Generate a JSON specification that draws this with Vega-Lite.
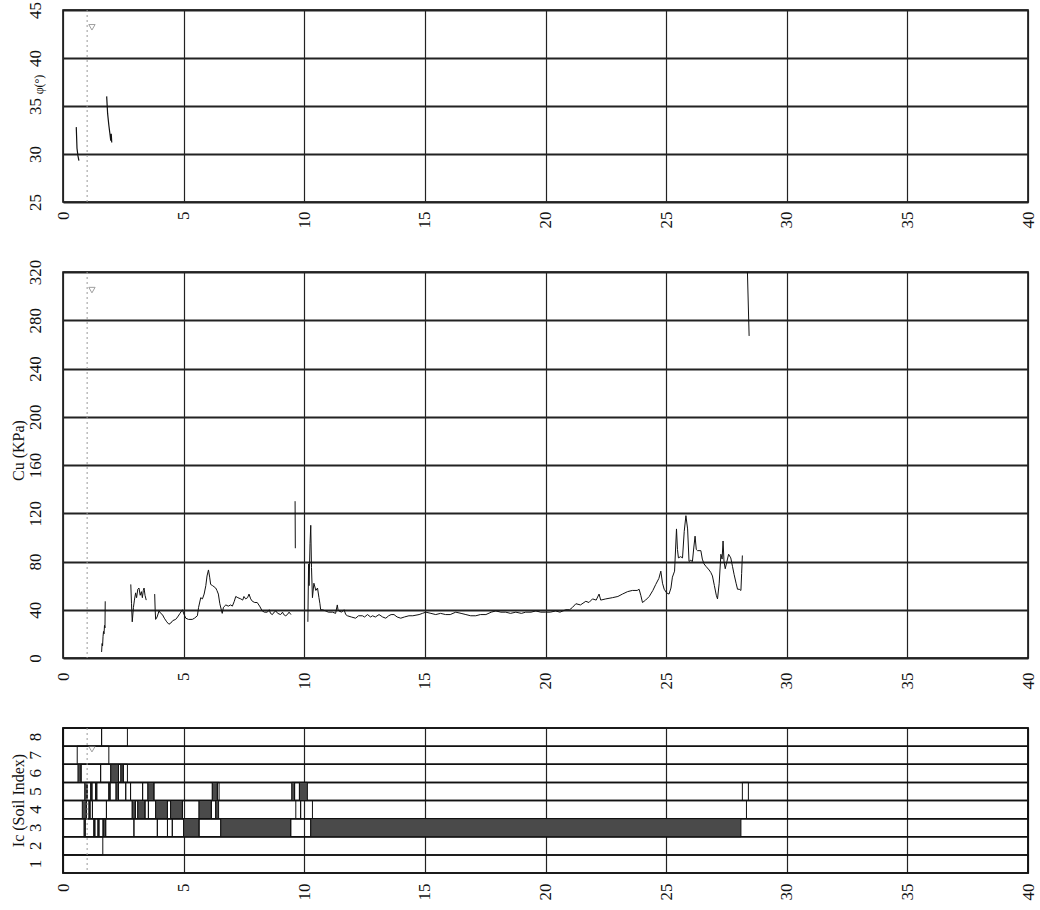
{
"$schema": "https://vega.github.io/schema/vega-lite/v6.json",
"background": "white",
"padding": {"left": 9, "top": 0, "right": 0, "bottom": 0},
"spacing": 70,
"bounds": "flush",
"config": {
  "view": {"stroke": "black", "strokeWidth": 1.5},
  "font": "Liberation Serif",
  "axis": {"labelFont": "Liberation Serif", "labelFontSize": 17, "labelColor": "#111", "titleFont": "Liberation Serif", "titleFontWeight": "normal", "titleColor": "#111", "ticks": false, "domain": false, "gridColor": "#222", "gridOpacity": 1, "labelOverlap": false, "labelFlush": false}
},
"datasets": {
  "phi": [
    {"depth":0.55,"phi":32.8,"seg":1},{"depth":0.58,"phi":30.6,"seg":1},{"depth":0.62,"phi":29.8,"seg":1},{"depth":0.66,"phi":29.3,"seg":1},
    {"depth":1.81,"phi":36.0,"seg":2},{"depth":1.85,"phi":34.2,"seg":2},{"depth":1.9,"phi":33.0,"seg":2},{"depth":1.95,"phi":32.0,"seg":2},{"depth":1.98,"phi":31.4,"seg":2},{"depth":2.0,"phi":32.1,"seg":2},{"depth":2.02,"phi":31.2,"seg":2}
  ],
  "cu": [
    {"depth":1.6,"cu":5,"seg":1},{"depth":1.62,"cu":12,"seg":1},{"depth":1.64,"cu":10,"seg":1},{"depth":1.66,"cu":18,"seg":1},{"depth":1.68,"cu":22,"seg":1},{"depth":1.7,"cu":20,"seg":1},{"depth":1.72,"cu":27,"seg":1},{"depth":1.74,"cu":25,"seg":1},{"depth":1.75,"cu":47,"seg":1},
    {"depth":2.81,"cu":61,"seg":2},{"depth":2.84,"cu":45,"seg":2},{"depth":2.87,"cu":30,"seg":2},{"depth":2.92,"cu":42,"seg":2},{"depth":2.96,"cu":48,"seg":2},{"depth":3.01,"cu":54,"seg":2},{"depth":3.05,"cu":50,"seg":2},{"depth":3.1,"cu":57,"seg":2},{"depth":3.15,"cu":58,"seg":2},{"depth":3.2,"cu":52,"seg":2},{"depth":3.25,"cu":55,"seg":2},{"depth":3.29,"cu":50,"seg":2},{"depth":3.33,"cu":56,"seg":2},{"depth":3.36,"cu":58,"seg":2},{"depth":3.4,"cu":52,"seg":2},{"depth":3.45,"cu":48,"seg":2},
    {"depth":3.8,"cu":53,"seg":3},{"depth":3.82,"cu":40,"seg":3},{"depth":3.84,"cu":32,"seg":3},{"depth":3.9,"cu":34,"seg":3},{"depth":3.98,"cu":39,"seg":3},{"depth":4.05,"cu":37,"seg":3},{"depth":4.12,"cu":36,"seg":3},{"depth":4.2,"cu":33,"seg":3},{"depth":4.3,"cu":30,"seg":3},{"depth":4.39,"cu":28,"seg":3},{"depth":4.47,"cu":29,"seg":3},{"depth":4.55,"cu":31,"seg":3},{"depth":4.67,"cu":32,"seg":3},{"depth":4.75,"cu":34,"seg":3},{"depth":4.85,"cu":37,"seg":3},{"depth":4.95,"cu":40,"seg":3},{"depth":5.02,"cu":36,"seg":3},{"depth":5.09,"cu":33,"seg":3},{"depth":5.2,"cu":32,"seg":3},{"depth":5.36,"cu":32,"seg":3},{"depth":5.45,"cu":33,"seg":3},{"depth":5.57,"cu":35,"seg":3},{"depth":5.62,"cu":42,"seg":3},{"depth":5.71,"cu":50,"seg":3},{"depth":5.78,"cu":49,"seg":3},{"depth":5.85,"cu":53,"seg":3},{"depth":5.92,"cu":60,"seg":3},{"depth":5.97,"cu":68,"seg":3},{"depth":6.03,"cu":73,"seg":3},{"depth":6.08,"cu":67,"seg":3},{"depth":6.12,"cu":61,"seg":3},{"depth":6.2,"cu":60,"seg":3},{"depth":6.33,"cu":58,"seg":3},{"depth":6.38,"cu":56,"seg":3},{"depth":6.44,"cu":53,"seg":3},{"depth":6.5,"cu":45,"seg":3},{"depth":6.6,"cu":37,"seg":3},{"depth":6.65,"cu":42,"seg":3},{"depth":6.75,"cu":44,"seg":3},{"depth":6.85,"cu":43,"seg":3},{"depth":6.95,"cu":44,"seg":3},{"depth":7.02,"cu":43,"seg":3},{"depth":7.1,"cu":47,"seg":3},{"depth":7.16,"cu":51,"seg":3},{"depth":7.25,"cu":50,"seg":3},{"depth":7.37,"cu":49,"seg":3},{"depth":7.45,"cu":48,"seg":3},{"depth":7.5,"cu":51,"seg":3},{"depth":7.57,"cu":49,"seg":3},{"depth":7.65,"cu":50,"seg":3},{"depth":7.71,"cu":53,"seg":3},{"depth":7.78,"cu":49,"seg":3},{"depth":7.85,"cu":47,"seg":3},{"depth":7.95,"cu":46,"seg":3},{"depth":8.05,"cu":46,"seg":3},{"depth":8.15,"cu":43,"seg":3},{"depth":8.26,"cu":39,"seg":3},{"depth":8.35,"cu":38,"seg":3},{"depth":8.47,"cu":38,"seg":3},{"depth":8.55,"cu":40,"seg":3},{"depth":8.6,"cu":37,"seg":3},{"depth":8.68,"cu":36,"seg":3},{"depth":8.75,"cu":38,"seg":3},{"depth":8.82,"cu":39,"seg":3},{"depth":8.9,"cu":37,"seg":3},{"depth":9.02,"cu":36,"seg":3},{"depth":9.1,"cu":38,"seg":3},{"depth":9.15,"cu":36,"seg":3},{"depth":9.23,"cu":35,"seg":3},{"depth":9.3,"cu":36,"seg":3},{"depth":9.37,"cu":38,"seg":3},{"depth":9.45,"cu":36,"seg":3},
    {"depth":9.62,"cu":130,"seg":4},{"depth":9.63,"cu":91,"seg":4},
    {"depth":10.15,"cu":30,"seg":5},{"depth":10.18,"cu":78,"seg":5},{"depth":10.2,"cu":60,"seg":5},{"depth":10.24,"cu":95,"seg":5},{"depth":10.27,"cu":110,"seg":5},{"depth":10.3,"cu":75,"seg":5},{"depth":10.34,"cu":50,"seg":5},{"depth":10.4,"cu":62,"seg":5},{"depth":10.48,"cu":56,"seg":5},{"depth":10.55,"cu":58,"seg":5},{"depth":10.61,"cu":50,"seg":5},{"depth":10.65,"cu":45,"seg":5},{"depth":10.68,"cu":40,"seg":5},{"depth":10.75,"cu":40,"seg":5},{"depth":10.89,"cu":39,"seg":5},{"depth":11.0,"cu":38,"seg":5},{"depth":11.17,"cu":38,"seg":5},{"depth":11.3,"cu":37,"seg":5},{"depth":11.37,"cu":44,"seg":5},{"depth":11.4,"cu":40,"seg":5},{"depth":11.44,"cu":39,"seg":5},{"depth":11.55,"cu":38,"seg":5},{"depth":11.65,"cu":40,"seg":5},{"depth":11.72,"cu":36,"seg":5},{"depth":11.79,"cu":35,"seg":5},{"depth":11.95,"cu":34,"seg":5},{"depth":12.13,"cu":33,"seg":5},{"depth":12.25,"cu":35,"seg":5},{"depth":12.41,"cu":35,"seg":5},{"depth":12.5,"cu":34,"seg":5},{"depth":12.62,"cu":36,"seg":5},{"depth":12.75,"cu":34,"seg":5},{"depth":12.83,"cu":35,"seg":5},{"depth":12.95,"cu":34,"seg":5},{"depth":13.1,"cu":36,"seg":5},{"depth":13.25,"cu":34,"seg":5},{"depth":13.38,"cu":33,"seg":5},{"depth":13.5,"cu":35,"seg":5},{"depth":13.6,"cu":36,"seg":5},{"depth":13.72,"cu":36,"seg":5},{"depth":13.85,"cu":34,"seg":5},{"depth":14.0,"cu":33,"seg":5},{"depth":14.15,"cu":34,"seg":5},{"depth":14.34,"cu":35,"seg":5},{"depth":14.5,"cu":35,"seg":5},{"depth":14.76,"cu":36,"seg":5},{"depth":14.9,"cu":37,"seg":5},{"depth":15.04,"cu":38,"seg":5},{"depth":15.25,"cu":37,"seg":5},{"depth":15.45,"cu":36,"seg":5},{"depth":15.65,"cu":37,"seg":5},{"depth":15.86,"cu":36,"seg":5},{"depth":16.05,"cu":36,"seg":5},{"depth":16.28,"cu":38,"seg":5},{"depth":16.5,"cu":37,"seg":5},{"depth":16.7,"cu":36,"seg":5},{"depth":16.9,"cu":35,"seg":5},{"depth":17.11,"cu":35,"seg":5},{"depth":17.3,"cu":36,"seg":5},{"depth":17.53,"cu":36,"seg":5},{"depth":17.75,"cu":38,"seg":5},{"depth":17.94,"cu":39,"seg":5},{"depth":18.15,"cu":38,"seg":5},{"depth":18.35,"cu":38,"seg":5},{"depth":18.55,"cu":37,"seg":5},{"depth":18.77,"cu":38,"seg":5},{"depth":19.0,"cu":37,"seg":5},{"depth":19.18,"cu":38,"seg":5},{"depth":19.4,"cu":38,"seg":5},{"depth":19.6,"cu":39,"seg":5},{"depth":19.8,"cu":38,"seg":5},{"depth":20.01,"cu":38,"seg":5},{"depth":20.2,"cu":38,"seg":5},{"depth":20.42,"cu":39,"seg":5},{"depth":20.6,"cu":38,"seg":5},{"depth":20.84,"cu":40,"seg":5},{"depth":21.0,"cu":40,"seg":5},{"depth":21.12,"cu":42,"seg":5},{"depth":21.26,"cu":45,"seg":5},{"depth":21.45,"cu":44,"seg":5},{"depth":21.67,"cu":47,"seg":5},{"depth":21.8,"cu":46,"seg":5},{"depth":21.95,"cu":49,"seg":5},{"depth":22.1,"cu":48,"seg":5},{"depth":22.22,"cu":53,"seg":5},{"depth":22.29,"cu":48,"seg":5},{"depth":22.5,"cu":49,"seg":5},{"depth":22.77,"cu":50,"seg":5},{"depth":23.0,"cu":51,"seg":5},{"depth":23.19,"cu":53,"seg":5},{"depth":23.4,"cu":55,"seg":5},{"depth":23.6,"cu":56,"seg":5},{"depth":23.8,"cu":56,"seg":5},{"depth":23.88,"cu":57,"seg":5},{"depth":23.95,"cu":52,"seg":5},{"depth":24.02,"cu":46,"seg":5},{"depth":24.15,"cu":48,"seg":5},{"depth":24.3,"cu":51,"seg":5},{"depth":24.45,"cu":56,"seg":5},{"depth":24.57,"cu":61,"seg":5},{"depth":24.7,"cu":66,"seg":5},{"depth":24.78,"cu":72,"seg":5},{"depth":24.85,"cu":62,"seg":5},{"depth":24.92,"cu":57,"seg":5},{"depth":25.02,"cu":54,"seg":5},{"depth":25.12,"cu":53,"seg":5},{"depth":25.2,"cu":58,"seg":5},{"depth":25.26,"cu":67,"seg":5},{"depth":25.35,"cu":72,"seg":5},{"depth":25.43,"cu":107,"seg":5},{"depth":25.47,"cu":90,"seg":5},{"depth":25.51,"cu":83,"seg":5},{"depth":25.6,"cu":84,"seg":5},{"depth":25.68,"cu":83,"seg":5},{"depth":25.75,"cu":105,"seg":5},{"depth":25.82,"cu":118,"seg":5},{"depth":25.89,"cu":107,"seg":5},{"depth":25.95,"cu":80,"seg":5},{"depth":26.02,"cu":81,"seg":5},{"depth":26.09,"cu":80,"seg":5},{"depth":26.15,"cu":92,"seg":5},{"depth":26.2,"cu":101,"seg":5},{"depth":26.25,"cu":90,"seg":5},{"depth":26.3,"cu":89,"seg":5},{"depth":26.44,"cu":89,"seg":5},{"depth":26.5,"cu":82,"seg":5},{"depth":26.57,"cu":78,"seg":5},{"depth":26.65,"cu":76,"seg":5},{"depth":26.78,"cu":73,"seg":5},{"depth":26.85,"cu":71,"seg":5},{"depth":26.92,"cu":68,"seg":5},{"depth":27.0,"cu":60,"seg":5},{"depth":27.08,"cu":52,"seg":5},{"depth":27.13,"cu":49,"seg":5},{"depth":27.2,"cu":62,"seg":5},{"depth":27.27,"cu":86,"seg":5},{"depth":27.32,"cu":82,"seg":5},{"depth":27.36,"cu":97,"seg":5},{"depth":27.4,"cu":80,"seg":5},{"depth":27.45,"cu":74,"seg":5},{"depth":27.52,"cu":80,"seg":5},{"depth":27.59,"cu":86,"seg":5},{"depth":27.68,"cu":83,"seg":5},{"depth":27.75,"cu":76,"seg":5},{"depth":27.82,"cu":69,"seg":5},{"depth":27.9,"cu":62,"seg":5},{"depth":27.96,"cu":57,"seg":5},{"depth":28.03,"cu":57,"seg":5},{"depth":28.1,"cu":56,"seg":5},{"depth":28.13,"cu":70,"seg":5},{"depth":28.16,"cu":85,"seg":5},
    {"depth":28.37,"cu":320,"seg":6},{"depth":28.44,"cu":267,"seg":6}
  ],
  "rows": [{"ic":1},{"ic":2},{"ic":3},{"ic":4},{"ic":5},{"ic":6},{"ic":7},{"ic":8}],
  "ic": [
    {"d0":0,"d1":1.6,"ic":8,"kind":"box"},{"d0":1.6,"d1":2.67,"ic":8,"kind":"box"},
    {"d0":0.59,"d1":1.9,"ic":7,"kind":"box"},
    {"d0":0.62,"d1":0.75,"ic":6,"kind":"dark"},{"d0":0.75,"d1":1.56,"ic":6,"kind":"box"},{"d0":1.56,"d1":1.98,"ic":6,"kind":"box"},{"d0":1.98,"d1":2.3,"ic":6,"kind":"dark"},{"d0":2.3,"d1":2.4,"ic":6,"kind":"box"},{"d0":2.4,"d1":2.5,"ic":6,"kind":"dark"},{"d0":2.5,"d1":2.67,"ic":6,"kind":"box"},
    {"d0":0.9,"d1":1.0,"ic":5,"kind":"dark"},{"d0":1.0,"d1":1.15,"ic":5,"kind":"box"},{"d0":1.15,"d1":1.2,"ic":5,"kind":"dark"},{"d0":1.2,"d1":1.35,"ic":5,"kind":"box"},{"d0":1.35,"d1":1.4,"ic":5,"kind":"dark"},{"d0":1.4,"d1":1.9,"ic":5,"kind":"box"},{"d0":1.9,"d1":1.95,"ic":5,"kind":"dark"},{"d0":1.95,"d1":2.2,"ic":5,"kind":"box"},{"d0":2.2,"d1":2.3,"ic":5,"kind":"dark"},{"d0":2.3,"d1":2.6,"ic":5,"kind":"box"},{"d0":2.6,"d1":2.8,"ic":5,"kind":"box"},{"d0":2.8,"d1":3.3,"ic":5,"kind":"box"},{"d0":3.3,"d1":3.52,"ic":5,"kind":"box"},{"d0":3.52,"d1":3.77,"ic":5,"kind":"dark"},{"d0":3.77,"d1":6.19,"ic":5,"kind":"box"},{"d0":6.19,"d1":6.4,"ic":5,"kind":"dark"},{"d0":6.4,"d1":6.47,"ic":5,"kind":"box"},{"d0":9.48,"d1":9.6,"ic":5,"kind":"dark"},{"d0":9.6,"d1":9.8,"ic":5,"kind":"box"},{"d0":9.8,"d1":10.13,"ic":5,"kind":"dark"},{"d0":28.16,"d1":28.41,"ic":5,"kind":"box"},
    {"d0":0.8,"d1":0.97,"ic":4,"kind":"dark"},{"d0":0.97,"d1":1.08,"ic":4,"kind":"box"},{"d0":1.08,"d1":1.12,"ic":4,"kind":"dark"},{"d0":1.12,"d1":1.22,"ic":4,"kind":"box"},{"d0":1.22,"d1":1.8,"ic":4,"kind":"box"},{"d0":1.8,"d1":2.87,"ic":4,"kind":"box"},{"d0":2.87,"d1":3.0,"ic":4,"kind":"dark"},{"d0":3.0,"d1":3.1,"ic":4,"kind":"box"},{"d0":3.1,"d1":3.4,"ic":4,"kind":"dark"},{"d0":3.4,"d1":3.54,"ic":4,"kind":"box"},{"d0":3.54,"d1":3.84,"ic":4,"kind":"box"},{"d0":3.84,"d1":4.33,"ic":4,"kind":"dark"},{"d0":4.33,"d1":4.46,"ic":4,"kind":"box"},{"d0":4.46,"d1":4.95,"ic":4,"kind":"dark"},{"d0":4.95,"d1":5.64,"ic":4,"kind":"box"},{"d0":5.64,"d1":6.15,"ic":4,"kind":"dark"},{"d0":6.15,"d1":6.33,"ic":4,"kind":"box"},{"d0":6.33,"d1":6.45,"ic":4,"kind":"dark"},{"d0":9.65,"d1":9.85,"ic":4,"kind":"box"},{"d0":9.85,"d1":10.34,"ic":4,"kind":"box"},{"d0":28.33,"d1":40,"ic":4,"kind":"box"},
    {"d0":0.87,"d1":0.92,"ic":3,"kind":"dark"},{"d0":0.92,"d1":1.28,"ic":3,"kind":"box"},{"d0":1.28,"d1":1.32,"ic":3,"kind":"dark"},{"d0":1.32,"d1":1.45,"ic":3,"kind":"box"},{"d0":1.45,"d1":1.49,"ic":3,"kind":"dark"},{"d0":1.49,"d1":1.66,"ic":3,"kind":"box"},{"d0":1.66,"d1":1.7,"ic":3,"kind":"dark"},{"d0":1.7,"d1":1.77,"ic":3,"kind":"box"},{"d0":1.77,"d1":2.94,"ic":3,"kind":"box"},{"d0":2.94,"d1":3.91,"ic":3,"kind":"box"},{"d0":3.91,"d1":4.33,"ic":3,"kind":"box"},{"d0":4.33,"d1":4.53,"ic":3,"kind":"box"},{"d0":4.53,"d1":5.0,"ic":3,"kind":"box"},{"d0":5.0,"d1":5.64,"ic":3,"kind":"dark"},{"d0":5.64,"d1":6.54,"ic":3,"kind":"box"},{"d0":6.54,"d1":9.44,"ic":3,"kind":"dark"},{"d0":9.44,"d1":10.27,"ic":3,"kind":"box"},{"d0":10.27,"d1":28.1,"ic":3,"kind":"dark"},
    {"d0":0,"d1":1.65,"ic":2,"kind":"box"}
  ],
  "wt": [{"depth":1.0}],
  "wtmark": [{"depth":1.2,"phi":43.2,"cu":305,"ic":7}]
},
"vconcat": [
  {
    "width": 965, "height": 192,
    "layer": [
      {"data":{"name":"phi"},"mark":{"type":"line","color":"#111","strokeWidth":1.2},
       "encoding":{
         "x":{"field":"depth","type":"quantitative","scale":{"domain":[0,40],"nice":false},"axis":{"values":[0,5,10,15,20,25,30,35,40],"grid":true,"gridWidth":1.2,"labelAngle":-90,"labelAlign":"right","labelBaseline":"middle","labelPadding":9,"title":null}},
         "y":{"field":"phi","type":"quantitative","scale":{"domain":[25,45],"nice":false,"zero":false},"axis":{"values":[25,30,35,40,45],"grid":true,"gridWidth":1.8,"labelAngle":-90,"labelAlign":"center","labelBaseline":"bottom","labelPadding":19,"title":"φ(°)","titleAngle":-90,"titleX":-25,"titleY":74,"titleAlign":"center","titleBaseline":"middle","titleFontSize":12}},
         "detail":{"field":"seg","type":"nominal"}}},
      {"data":{"name":"wt"},"mark":{"type":"rule","color":"#9a9a9a","strokeDash":[2,3],"strokeWidth":1},
       "encoding":{"x":{"field":"depth","type":"quantitative","title":null}}},
      {"data":{"name":"wtmark"},"mark":{"type":"point","shape":"triangle-down","filled":false,"color":"#777","size":40,"strokeWidth":1},
       "encoding":{"x":{"field":"depth","type":"quantitative","title":null},"y":{"field":"phi","type":"quantitative","title":"φ(°)"}}}
    ]
  },
  {
    "width": 965, "height": 386,
    "layer": [
      {"data":{"name":"cu"},"mark":{"type":"line","color":"#111","strokeWidth":1},
       "encoding":{
         "x":{"field":"depth","type":"quantitative","scale":{"domain":[0,40],"nice":false},"axis":{"values":[0,5,10,15,20,25,30,35,40],"grid":true,"gridWidth":1.2,"labelAngle":-90,"labelAlign":"right","labelBaseline":"middle","labelPadding":14,"title":null}},
         "y":{"field":"cu","type":"quantitative","scale":{"domain":[0,320],"nice":false},"axis":{"values":[0,40,80,120,160,200,240,280,320],"grid":true,"gridWidth":1.8,"labelAngle":-90,"labelAlign":"center","labelBaseline":"bottom","labelPadding":19,"title":"Cu (KPa)","titleAngle":-90,"titleX":-45,"titleY":178,"titleAlign":"center","titleBaseline":"middle","titleFontSize":16}},
         "detail":{"field":"seg","type":"nominal"}}},
      {"data":{"name":"wt"},"mark":{"type":"rule","color":"#9a9a9a","strokeDash":[2,3],"strokeWidth":1},
       "encoding":{"x":{"field":"depth","type":"quantitative","title":null}}},
      {"data":{"name":"wtmark"},"mark":{"type":"point","shape":"triangle-down","filled":false,"color":"#777","size":40,"strokeWidth":1},
       "encoding":{"x":{"field":"depth","type":"quantitative","title":null},"y":{"field":"cu","type":"quantitative","title":"Cu (KPa)"}}}
    ]
  },
  {
    "width": 965, "height": 145,
    "layer": [
      {"data":{"name":"rows"},"mark":{"type":"rect","fill":"transparent","stroke":"#111","strokeWidth":1.5},
       "encoding":{
         "x":{"datum":0,"type":"quantitative","scale":{"domain":[0,40],"nice":false},"axis":{"values":[0,5,10,15,20,25,30,35,40],"grid":true,"gridWidth":1.2,"labelAngle":-90,"labelAlign":"right","labelBaseline":"middle","labelPadding":10,"title":null}},
         "x2":{"datum":40},
         "y":{"field":"ic","type":"ordinal","scale":{"domain":[8,7,6,5,4,3,2,1],"paddingInner":0,"paddingOuter":0},"axis":{"grid":false,"labelAngle":-90,"labelAlign":"center","labelBaseline":"bottom","labelPadding":19,"title":"Ic (Soil Index)","titleAngle":-90,"titleX":-45,"titleY":72,"titleAlign":"center","titleBaseline":"middle","titleFontSize":16}}}},
      {"data":{"name":"ic"},"mark":{"type":"rect","stroke":"#111","strokeWidth":1},
       "encoding":{
         "x":{"field":"d0","type":"quantitative","title":null},
         "x2":{"field":"d1"},
         "y":{"field":"ic","type":"ordinal","title":"Ic (Soil Index)"},
         "color":{"field":"kind","type":"nominal","scale":{"domain":["box","dark"],"range":["transparent","#4a4a4a"]},"legend":null}}},
      {"data":{"name":"wt"},"mark":{"type":"rule","color":"#9a9a9a","strokeDash":[2,3],"strokeWidth":1},
       "encoding":{"x":{"field":"depth","type":"quantitative","title":null}}},
      {"data":{"name":"wtmark"},"mark":{"type":"point","shape":"triangle-down","filled":false,"color":"#777","size":40,"strokeWidth":1,"yOffset":-6},
       "encoding":{"x":{"field":"depth","type":"quantitative","title":null},"y":{"field":"ic","type":"ordinal","title":"Ic (Soil Index)"}}}
    ]
  }
]
}
